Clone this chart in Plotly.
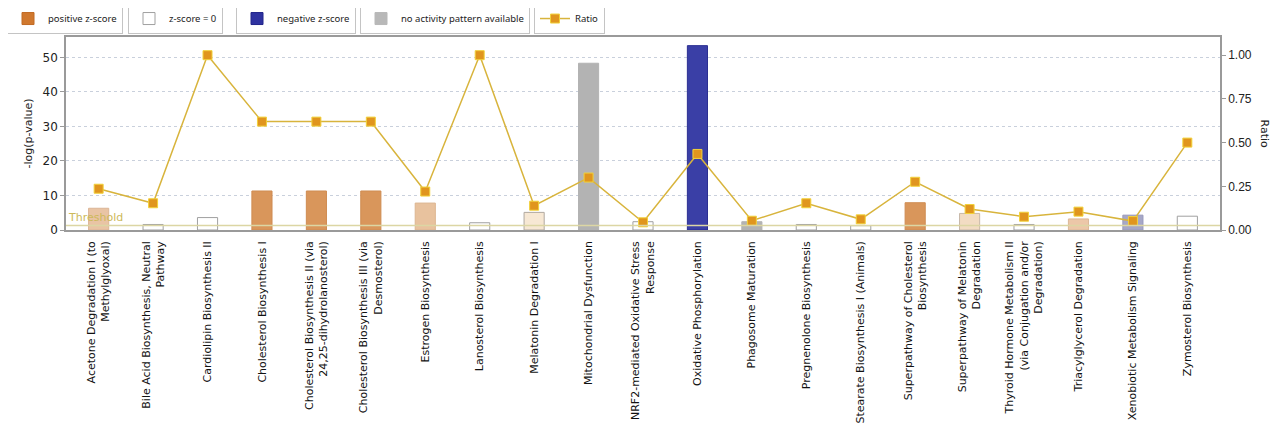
import plotly.graph_objects as go

categories = [
    "Acetone Degradation I (to Methylglyoxal)",
    "Bile Acid Biosynthesis, Neutral Pathway",
    "Cardiolipin Biosynthesis II",
    "Cholesterol Biosynthesis I",
    "Cholesterol Biosynthesis II (via 24,25-dihydrolanosterol)",
    "Cholesterol Biosynthesis III (via Desmosterol)",
    "Estrogen Biosynthesis",
    "Lanosterol Biosynthesis",
    "Melatonin Degradation I",
    "Mitochondrial Dysfunction",
    "NRF2-mediated Oxidative Stress Response",
    "Oxidative Phosphorylation",
    "Phagosome Maturation",
    "Pregnenolone Biosynthesis",
    "Stearate Biosynthesis I (Animals)",
    "Superpathway of Cholesterol Biosynthesis",
    "Superpathway of Melatonin Degradation",
    "Thyroid Hormone Metabolism II (via Conjugation and/or Degradation)",
    "Triacylglycerol Degradation",
    "Xenobiotic Metabolism Signaling",
    "Zymosterol Biosynthesis",
]
tick_labels = [
    "Acetone Degradation I (to<br>Methylglyoxal)",
    "Bile Acid Biosynthesis, Neutral<br>Pathway",
    "Cardiolipin Biosynthesis II",
    "Cholesterol Biosynthesis I",
    "Cholesterol Biosynthesis II (via<br>24,25-dihydrolanosterol)",
    "Cholesterol Biosynthesis III (via<br>Desmosterol)",
    "Estrogen Biosynthesis",
    "Lanosterol Biosynthesis",
    "Melatonin Degradation I",
    "Mitochondrial Dysfunction",
    "NRF2-mediated Oxidative Stress<br>Response",
    "Oxidative Phosphorylation",
    "Phagosome Maturation",
    "Pregnenolone Biosynthesis",
    "Stearate Biosynthesis I (Animals)",
    "Superpathway of Cholesterol<br>Biosynthesis",
    "Superpathway of Melatonin<br>Degradation",
    "Thyroid Hormone Metabolism II<br>(via Conjugation and/or<br>Degradation)",
    "Triacylglycerol Degradation",
    "Xenobiotic Metabolism Signaling",
    "Zymosterol Biosynthesis",
]
neg_log_p = [6.3, 1.6, 3.6, 11.3, 11.3, 11.3, 7.8, 2.1, 5.1, 48.3, 2.4,
             53.4, 2.4, 1.6, 1.25, 7.9, 4.8, 1.6, 3.2, 4.3, 4.0]
ratio = [0.236, 0.153, 1.0, 0.62, 0.62, 0.62, 0.22, 1.0, 0.139, 0.30, 0.044,
         0.435, 0.053, 0.153, 0.061, 0.276, 0.12, 0.076, 0.105, 0.051, 0.50]
bar_colors = ["#e9c4a4", "#ffffff", "#ffffff", "#d9965b", "#d9965b", "#d9965b",
              "#e8c29e", "#ffffff", "#f7e8d4", "#b3b3b3", "#ffffff", "#3a3fa6",
              "#b3b3b3", "#ffffff", "#ffffff", "#d9965b", "#f2dcc3", "#ffffff",
              "#ecc7a8", "#a6a7c7", "#ffffff"]
bar_edges = ["#dbb596", "#a0a0a0", "#a0a0a0", "#cf8c52", "#cf8c52", "#cf8c52",
             "#dcb590", "#a0a0a0", "#b0a8a0", "#b3b3b3", "#a0a0a0", "#2b2f92",
             "#b3b3b3", "#a0a0a0", "#a0a0a0", "#cf8c52", "#c8b8a8", "#a0a0a0",
             "#dbb898", "#9a9bbb", "#a0a0a0"]
threshold = 1.3

legend_names = ["positive z-score", "z-score = 0", "negative z-score",
                "no activity pattern available"]
legend_colors = ["#d0782e", "#ffffff", "#2e32a0", "#b8b8b8"]
legend_edges = ["#c06a24", "#a0a0a0", "#20248a", "#b8b8b8"]

# plot area in screen pixels (for placing the separate legend boxes)
PLOT_L, PLOT_W = 66, 1154
legend_left_px = [7, 128, 236, 360, 534]


def px_to_paper(px):
    return (px - PLOT_L) / PLOT_W


fig = go.Figure()

for i, (name, c, e) in enumerate(zip(legend_names, legend_colors, legend_edges)):
    fig.add_trace(go.Bar(x=[None], y=[None], name=name,
                         legend="legend" if i == 0 else f"legend{i + 1}",
                         marker=dict(color=c, line=dict(color=e, width=1))))

fig.add_trace(go.Bar(
    x=categories, y=neg_log_p, width=0.37, showlegend=False,
    marker=dict(color=bar_colors, line=dict(color=bar_edges, width=1)),
))

fig.add_trace(go.Scatter(
    x=categories, y=ratio, yaxis="y2", name="Ratio", mode="lines+markers",
    legend="legend5",
    line=dict(color="#d8b43c", width=1.5),
    marker=dict(symbol="square", size=9, color="#e0951e",
                line=dict(color="#f2d23a", width=1)),
))

fig.add_shape(type="line", xref="paper", x0=0, x1=1, yref="y",
              y0=threshold, y1=threshold, line=dict(color="#dcd6a4", width=1.5),
              layer="above")
fig.add_annotation(text="Threshold", xref="paper", x=0.0, xanchor="left",
                   yref="y", y=threshold, yanchor="bottom", showarrow=False,
                   font=dict(family="DejaVu Sans", size=11, color="#cdb95a"))
fig.add_annotation(text="Ratio", xref="paper", x=1.0, xshift=44, xanchor="center",
                   yref="paper", y=0.5, yanchor="middle", textangle=90,
                   showarrow=False,
                   font=dict(family="DejaVu Sans", size=11, color="#222222"))

legend_style = dict(orientation="h", y=1.176, xanchor="left", yanchor="top",
                    font=dict(family="Noto Sans", size=9.5, color="#222222"),
                    bgcolor="white", bordercolor="#c4c4c4", borderwidth=1,
                    itemwidth=30)
legends = {}
for i, lx in enumerate(legend_left_px):
    key = "legend" if i == 0 else f"legend{i + 1}"
    legends[key] = dict(legend_style, x=px_to_paper(lx))

fig.update_layout(
    width=1283, height=434,
    margin=dict(l=58, r=71, t=29, b=212, autoexpand=False),
    plot_bgcolor="white", paper_bgcolor="white",
    barmode="overlay",
    font=dict(family="DejaVu Sans", size=11, color="#222222"),
    xaxis=dict(
        type="category",
        categoryorder="array", categoryarray=categories,
        tickvals=categories, ticktext=tick_labels, tickangle=-90,
        range=[-0.6, 20.6], showline=True, linecolor="#9a9a9a", linewidth=1.5,
        mirror=True, showgrid=False, ticks="", ticklabelstandoff=5,
        tickfont=dict(family="DejaVu Sans", size=11, color="#111111"),
    ),
    yaxis=dict(
        range=[0, 55.9], tickvals=[0, 10, 20, 30, 40, 50], showline=True,
        linecolor="#9a9a9a", linewidth=1.5, ticks="outside", ticklen=4,
        tickcolor="#9a9a9a", showgrid=True, gridcolor="#c9d0dc",
        griddash="3px,3px", gridwidth=1, zeroline=False,
        tickfont=dict(family="DejaVu Sans", size=12, color="#222222"),
        title=dict(text="-log(p-value)", standoff=8,
                   font=dict(family="DejaVu Sans", size=11, color="#222222")),
    ),
    yaxis2=dict(
        range=[0, 1.104], overlaying="y", side="right",
        tickvals=[0, 0.25, 0.5, 0.75, 1.0], ticktext=["0.00", "0.25", "0.50", "0.75", "1.00"],
        showline=True, linecolor="#9a9a9a", linewidth=1.5, ticks="outside",
        ticklen=4, tickcolor="#9a9a9a", showgrid=False, zeroline=False,
        tickfont=dict(family="Liberation Sans", size=12, color="#222222"),
    ),
    **legends,
)

fig.write_html("out.html")
